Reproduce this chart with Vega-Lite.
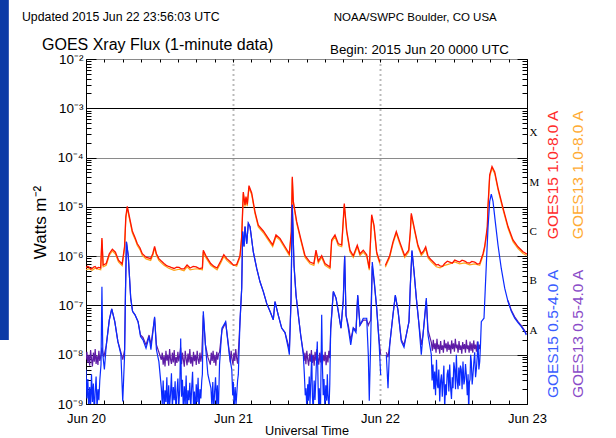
{
"$schema": "https://vega.github.io/schema/vega-lite/v6.json",
"width": 441, "height": 345,
"autosize": {"type": "none"},
"padding": {"left": 86, "top": 59, "right": 89, "bottom": 34},
"background": "white",
"config": {
 "view": {"stroke": "#000", "strokeWidth": 1},
 "font": "Liberation Sans",
 "axis": {"labelFont": "Liberation Sans", "titleFont": "Liberation Sans", "labelColor": "#000", "titleColor": "#000", "tickColor": "#000", "domain": false, "titleFontWeight": "normal", "labelOverlap": false, "labelFlush": false, "labelBound": false}
},
"datasets": {
 "r15": [{"t":0,"f":5.75e-7},{"t":0.25,"f":6.2e-7},{"t":0.5,"f":6.03e-7},{"t":0.75,"f":5.5e-7},{"t":1.0,"f":5.62e-7},{"t":1.25,"f":6.0e-7},{"t":1.5,"f":6.17e-7},{"t":1.75,"f":5.6e-7},{"t":2.0,"f":5.89e-7},{"t":2.4,"f":5.75e-7},{"t":2.6,"f":2.34e-6},{"t":2.8,"f":6.61e-7},{"t":3.3,"f":7.08e-7},{"t":3.8,"f":1.12e-6},{"t":4.3,"f":1.38e-6},{"t":4.8,"f":1.2e-6},{"t":5.3,"f":8.32e-7},{"t":5.9,"f":6.92e-7},{"t":6.3,"f":1.58e-6},{"t":6.5,"f":6.31e-6},{"t":6.74,"f":1.02e-5},{"t":7.0,"f":7.08e-6},{"t":7.56,"f":3.24e-6},{"t":8.0,"f":2.4e-6},{"t":8.38,"f":1.78e-6},{"t":8.8,"f":1.48e-6},{"t":9.19,"f":1.12e-6},{"t":9.8,"f":9.55e-7},{"t":10.56,"f":8.91e-7},{"t":10.9,"f":1.12e-6},{"t":11.2,"f":1.58e-6},{"t":11.5,"f":1.12e-6},{"t":11.9,"f":8.91e-7},{"t":12.3,"f":7.94e-7},{"t":12.73,"f":7.08e-7},{"t":13.1,"f":6.5e-7},{"t":13.5,"f":6.17e-7},{"t":13.9,"f":5.9e-7},{"t":14.37,"f":5.62e-7},{"t":14.8,"f":6.0e-7},{"t":15.2,"f":5.89e-7},{"t":15.6,"f":5.5e-7},{"t":16.0,"f":5.5e-7},{"t":16.5,"f":6.61e-7},{"t":17.0,"f":5.75e-7},{"t":17.5,"f":6.2e-7},{"t":18.0,"f":6.03e-7},{"t":18.5,"f":5.6e-7},{"t":19.0,"f":5.75e-7},{"t":19.15,"f":1.32e-6},{"t":19.6,"f":1.0e-6},{"t":20.36,"f":7.08e-7},{"t":20.9,"f":6.2e-7},{"t":21.4,"f":5.75e-7},{"t":22.0,"f":7.94e-7},{"t":22.5,"f":1.07e-6},{"t":23.0,"f":8.91e-7},{"t":23.6,"f":7.59e-7},{"t":24.1,"f":6.5e-7},{"t":24.6,"f":6.76e-7},{"t":25.14,"f":1.02e-6},{"t":25.42,"f":2.51e-6},{"t":25.68,"f":2.0e-5},{"t":25.96,"f":1.1e-5},{"t":26.12,"f":1.62e-5},{"t":26.33,"f":1.12e-5},{"t":26.61,"f":2.69e-5},{"t":27.05,"f":1.91e-5},{"t":27.59,"f":7.94e-6},{"t":28.13,"f":4.27e-6},{"t":28.95,"f":3.24e-6},{"t":29.76,"f":2.29e-6},{"t":30.48,"f":1.7e-6},{"t":31.02,"f":2.69e-6},{"t":31.67,"f":2.29e-6},{"t":32.49,"f":1.55e-6},{"t":33.19,"f":1.12e-6},{"t":33.52,"f":3.16e-6},{"t":33.68,"f":4.07e-5},{"t":33.85,"f":1.29e-5},{"t":34.4,"f":5.01e-6},{"t":35.05,"f":2.29e-6},{"t":35.76,"f":1.02e-6},{"t":36.57,"f":7.59e-7},{"t":37.2,"f":7.08e-7},{"t":37.55,"f":1.32e-6},{"t":37.93,"f":7.94e-7},{"t":38.48,"f":1.02e-6},{"t":39.02,"f":7.08e-7},{"t":39.84,"f":6.03e-7},{"t":40.11,"f":2.14e-6},{"t":40.65,"f":2.69e-6},{"t":41.19,"f":1.78e-6},{"t":41.75,"f":1.7e-6},{"t":42.17,"f":1.17e-5},{"t":42.56,"f":3.31e-6},{"t":43.1,"f":1.32e-6},{"t":43.64,"f":1.02e-6},{"t":44.29,"f":1.66e-6},{"t":44.73,"f":1.12e-6},{"t":45.27,"f":1.32e-6},{"t":45.83,"f":1.07e-6},{"t":46.25,"f":5.62e-7},{"t":46.64,"f":6.92e-6},{"t":47.02,"f":4.27e-6},{"t":47.46,"f":1.2e-6},{"t":48.0,"f":7.41e-7},{"t":48.3,"f":null},{"t":48.87,"f":6.46e-7},{"t":49.58,"f":1.02e-6},{"t":50.12,"f":1.95e-6},{"t":50.66,"f":3.16e-6},{"t":51.22,"f":1.95e-6},{"t":52.03,"f":1.02e-6},{"t":52.69,"f":1.32e-6},{"t":52.95,"f":3.16e-6},{"t":53.11,"f":7.41e-6},{"t":53.67,"f":3.39e-6},{"t":54.2,"f":1.66e-6},{"t":54.74,"f":1.12e-6},{"t":55.1,"f":1.26e-6},{"t":55.46,"f":1.55e-6},{"t":55.84,"f":1.0e-6},{"t":56.38,"f":8.32e-7},{"t":57.19,"f":6.61e-7},{"t":57.5,"f":6.8e-7},{"t":57.8,"f":6.31e-7},{"t":58.2,"f":6.2e-7},{"t":58.56,"f":7.08e-7},{"t":59.0,"f":7.9e-7},{"t":59.38,"f":7.59e-7},{"t":59.8,"f":7.2e-7},{"t":60.2,"f":8.32e-7},{"t":60.6,"f":7.9e-7},{"t":61.0,"f":7.59e-7},{"t":61.4,"f":8.3e-7},{"t":61.83,"f":7.94e-7},{"t":62.2,"f":7.4e-7},{"t":62.64,"f":7.24e-7},{"t":63.0,"f":7.8e-7},{"t":63.46,"f":7.59e-7},{"t":63.9,"f":6.9e-7},{"t":64.28,"f":7.08e-7},{"t":64.82,"f":1.12e-6},{"t":65.09,"f":1.58e-6},{"t":65.35,"f":2.69e-6},{"t":65.52,"f":3.98e-6},{"t":65.63,"f":1.02e-5},{"t":65.91,"f":4.47e-5},{"t":66.29,"f":6.61e-5},{"t":66.73,"f":5.13e-5},{"t":67.27,"f":2.4e-5},{"t":68.08,"f":9.55e-6},{"t":68.9,"f":3.98e-6},{"t":69.71,"f":2.14e-6},{"t":70.53,"f":1.55e-6},{"t":71.35,"f":1.23e-6},{"t":71.9,"f":1.12e-6},{"t":72,"f":1.1e-6}],
 "o13": [{"t":0,"f":5.29e-7},{"t":0.5,"f":5.55e-7},{"t":1.0,"f":5.17e-7},{"t":1.5,"f":5.68e-7},{"t":2.0,"f":5.42e-7},{"t":2.4,"f":5.29e-7},{"t":2.6,"f":2.15e-6},{"t":2.8,"f":6.08e-7},{"t":3.3,"f":6.51e-7},{"t":3.8,"f":1.03e-6},{"t":4.3,"f":1.27e-6},{"t":4.8,"f":1.1e-6},{"t":5.3,"f":7.65e-7},{"t":5.9,"f":6.37e-7},{"t":6.3,"f":1.45e-6},{"t":6.5,"f":5.81e-6},{"t":6.74,"f":9.4e-6},{"t":7.0,"f":6.51e-6},{"t":7.56,"f":2.98e-6},{"t":8.0,"f":2.21e-6},{"t":8.38,"f":1.64e-6},{"t":8.8,"f":1.36e-6},{"t":9.19,"f":1.03e-6},{"t":9.8,"f":8.79e-7},{"t":10.56,"f":8.2e-7},{"t":10.9,"f":1.03e-6},{"t":11.2,"f":1.45e-6},{"t":11.5,"f":1.03e-6},{"t":11.9,"f":8.2e-7},{"t":12.3,"f":7.3e-7},{"t":12.73,"f":6.51e-7},{"t":13.5,"f":5.68e-7},{"t":14.37,"f":5.17e-7},{"t":15.2,"f":5.42e-7},{"t":16.0,"f":5.06e-7},{"t":16.5,"f":6.08e-7},{"t":17.0,"f":5.29e-7},{"t":18.0,"f":5.55e-7},{"t":19.0,"f":5.29e-7},{"t":19.15,"f":1.21e-6},{"t":19.6,"f":9.2e-7},{"t":20.36,"f":6.51e-7},{"t":21.4,"f":5.29e-7},{"t":22.0,"f":7.3e-7},{"t":22.5,"f":9.84e-7},{"t":23.0,"f":8.2e-7},{"t":23.6,"f":6.98e-7},{"t":24.6,"f":6.22e-7},{"t":25.14,"f":9.4e-7},{"t":25.42,"f":2.31e-6},{"t":25.68,"f":1.84e-5},{"t":25.96,"f":1.01e-5},{"t":26.12,"f":1.49e-5},{"t":26.33,"f":1.03e-5},{"t":26.61,"f":2.47e-5},{"t":27.05,"f":1.76e-5},{"t":27.59,"f":7.3e-6},{"t":28.13,"f":3.93e-6},{"t":28.95,"f":2.98e-6},{"t":29.76,"f":2.11e-6},{"t":30.48,"f":1.56e-6},{"t":31.02,"f":2.47e-6},{"t":31.67,"f":2.11e-6},{"t":32.49,"f":1.43e-6},{"t":33.19,"f":1.03e-6},{"t":33.52,"f":2.91e-6},{"t":33.68,"f":3.74e-5},{"t":33.85,"f":1.19e-5},{"t":34.4,"f":4.61e-6},{"t":35.05,"f":2.11e-6},{"t":35.76,"f":9.4e-7},{"t":36.57,"f":6.98e-7},{"t":37.2,"f":6.51e-7},{"t":37.55,"f":1.21e-6},{"t":37.93,"f":7.3e-7},{"t":38.48,"f":9.4e-7},{"t":39.02,"f":6.51e-7},{"t":39.84,"f":5.55e-7},{"t":40.11,"f":1.97e-6},{"t":40.65,"f":2.47e-6},{"t":41.19,"f":1.64e-6},{"t":41.75,"f":1.56e-6},{"t":42.17,"f":1.08e-5},{"t":42.56,"f":3.05e-6},{"t":43.1,"f":1.21e-6},{"t":43.64,"f":9.4e-7},{"t":44.29,"f":1.53e-6},{"t":44.73,"f":1.03e-6},{"t":45.27,"f":1.21e-6},{"t":45.83,"f":9.84e-7},{"t":46.25,"f":5.17e-7},{"t":46.64,"f":6.37e-6},{"t":47.02,"f":3.93e-6},{"t":47.46,"f":1.1e-6},{"t":48.0,"f":6.82e-7},{"t":48.3,"f":null},{"t":48.87,"f":5.94e-7},{"t":49.58,"f":9.4e-7},{"t":50.12,"f":1.79e-6},{"t":50.66,"f":2.91e-6},{"t":51.22,"f":1.79e-6},{"t":52.03,"f":9.4e-7},{"t":52.69,"f":1.21e-6},{"t":52.95,"f":2.91e-6},{"t":53.11,"f":6.82e-6},{"t":53.67,"f":3.12e-6},{"t":54.2,"f":1.53e-6},{"t":54.74,"f":1.03e-6},{"t":55.1,"f":1.16e-6},{"t":55.46,"f":1.43e-6},{"t":55.84,"f":9.2e-7},{"t":56.38,"f":7.65e-7},{"t":57.19,"f":6.08e-7},{"t":57.8,"f":5.81e-7},{"t":58.56,"f":6.51e-7},{"t":59.38,"f":6.98e-7},{"t":60.2,"f":7.65e-7},{"t":61.0,"f":6.98e-7},{"t":61.83,"f":7.3e-7},{"t":62.64,"f":6.66e-7},{"t":63.46,"f":6.98e-7},{"t":64.28,"f":6.51e-7},{"t":64.82,"f":1.03e-6},{"t":65.09,"f":1.45e-6},{"t":65.35,"f":2.47e-6},{"t":65.52,"f":3.66e-6},{"t":65.63,"f":9.4e-6},{"t":65.91,"f":4.11e-5},{"t":66.29,"f":6.08e-5},{"t":66.73,"f":4.72e-5},{"t":67.27,"f":2.21e-5},{"t":68.08,"f":8.79e-6},{"t":68.9,"f":3.66e-6},{"t":69.71,"f":1.97e-6},{"t":70.53,"f":1.43e-6},{"t":71.35,"f":1.13e-6},{"t":71.9,"f":1.03e-6}],
 "b15": [{"t":0,"f":5.0e-9},{"t":0.15,"f":1.3e-9},{"t":0.3,"f":3.2e-9},{"t":0.45,"f":7e-10},{"t":0.6,"f":2.2e-9},{"t":0.75,"f":9e-10},{"t":0.9,"f":4.0e-9},{"t":1.05,"f":1.1e-9},{"t":1.2,"f":2.6e-9},{"t":1.35,"f":6e-10},{"t":1.5,"f":1.8e-9},{"t":1.65,"f":3.6e-9},{"t":1.8,"f":8e-10},{"t":1.95,"f":2.0e-9},{"t":2.1,"f":1.2e-9},{"t":2.25,"f":3.0e-9},{"t":2.45,"f":6.31e-9},{"t":2.6,"f":2.4e-7},{"t":2.75,"f":1.0e-8},{"t":3.0,"f":5.01e-9},{"t":3.3,"f":1.51e-8},{"t":3.8,"f":5.01e-8},{"t":4.2,"f":8.51e-8},{"t":4.7,"f":4.68e-8},{"t":5.2,"f":1.86e-8},{"t":5.7,"f":1.0e-8},{"t":6.0,"f":1.12e-9},{"t":6.3,"f":1.0e-8},{"t":6.45,"f":2.0e-7},{"t":6.6,"f":1.95e-6},{"t":6.9,"f":1.02e-6},{"t":7.3,"f":1.41e-7},{"t":7.6,"f":7.59e-8},{"t":8.0,"f":6.46e-8},{"t":8.5,"f":4.68e-8},{"t":8.9,"f":2.34e-8},{"t":9.3,"f":2.0e-8},{"t":9.8,"f":1.35e-8},{"t":10.3,"f":2.34e-8},{"t":10.6,"f":1.26e-8},{"t":11.2,"f":5.89e-8},{"t":11.5,"f":1.26e-8},{"t":11.9,"f":7.24e-9},{"t":12.3,"f":2.1e-9},{"t":12.45,"f":1.0e-9},{"t":12.6,"f":3.0e-9},{"t":12.75,"f":7e-10},{"t":12.9,"f":1.9e-9},{"t":13.05,"f":1.1e-9},{"t":13.2,"f":3.5e-9},{"t":13.35,"f":6e-10},{"t":13.5,"f":2.4e-9},{"t":13.65,"f":9e-10},{"t":13.8,"f":1.6e-9},{"t":13.95,"f":4.2e-9},{"t":14.1,"f":8e-10},{"t":14.25,"f":2.2e-9},{"t":14.4,"f":1.2e-9},{"t":14.55,"f":2.9e-9},{"t":14.7,"f":6e-10},{"t":14.85,"f":1.7e-9},{"t":15.0,"f":3.3e-9},{"t":15.15,"f":9e-10},{"t":15.3,"f":2.0e-9},{"t":15.46,"f":2.14e-8},{"t":15.6,"f":1.4e-9},{"t":15.75,"f":3.1e-9},{"t":15.9,"f":7e-10},{"t":16.05,"f":2.3e-9},{"t":16.2,"f":1.0e-9},{"t":16.35,"f":3.8e-9},{"t":16.5,"f":6e-10},{"t":16.65,"f":1.9e-9},{"t":16.8,"f":1.2e-9},{"t":16.95,"f":2.7e-9},{"t":17.1,"f":8e-10},{"t":17.25,"f":2.1e-9},{"t":17.4,"f":4.5e-9},{"t":17.55,"f":9e-10},{"t":17.7,"f":1.8e-9},{"t":17.85,"f":6e-10},{"t":18.0,"f":2.5e-9},{"t":18.15,"f":1.1e-9},{"t":18.3,"f":3.4e-9},{"t":18.45,"f":7e-10},{"t":18.6,"f":2.0e-9},{"t":18.75,"f":1.3e-9},{"t":18.9,"f":3.0e-9},{"t":19.0,"f":4.0e-9},{"t":19.15,"f":7.59e-8},{"t":19.5,"f":1.58e-8},{"t":19.9,"f":3.98e-9},{"t":20.4,"f":2.1e-9},{"t":20.55,"f":9e-10},{"t":20.7,"f":2.8e-9},{"t":20.85,"f":7e-10},{"t":21.0,"f":1.8e-9},{"t":21.15,"f":3.5e-9},{"t":21.3,"f":1.0e-9},{"t":21.45,"f":2.4e-9},{"t":21.6,"f":6e-10},{"t":21.8,"f":6.31e-9},{"t":22.2,"f":3.47e-8},{"t":22.8,"f":4.68e-8},{"t":23.4,"f":1.0e-8},{"t":23.8,"f":5.0e-9},{"t":23.95,"f":1.5e-9},{"t":24.05,"f":2.82e-9},{"t":24.2,"f":8e-10},{"t":24.35,"f":2.2e-9},{"t":24.5,"f":1.0e-9},{"t":24.6,"f":1.51e-9},{"t":24.75,"f":3.0e-9},{"t":24.87,"f":3.98e-9},{"t":25.14,"f":4.68e-8},{"t":25.42,"f":2.24e-7},{"t":25.58,"f":3.16e-6},{"t":25.8,"f":1.58e-6},{"t":25.96,"f":3.98e-6},{"t":26.24,"f":1.78e-6},{"t":26.5,"f":4.68e-6},{"t":26.78,"f":3.98e-6},{"t":27.31,"f":1.23e-6},{"t":27.87,"f":5.62e-7},{"t":28.41,"f":3.02e-7},{"t":28.95,"f":1.91e-7},{"t":29.5,"f":1.1e-7},{"t":30.04,"f":7.59e-8},{"t":30.58,"f":5.13e-8},{"t":30.86,"f":1.2e-7},{"t":31.4,"f":6.31e-8},{"t":31.95,"f":3.47e-8},{"t":32.49,"f":2.82e-8},{"t":33.03,"f":1.35e-8},{"t":33.2,"f":1.0e-8},{"t":33.47,"f":1.26e-7},{"t":33.68,"f":1.1e-5},{"t":33.96,"f":6.61e-7},{"t":34.29,"f":1.62e-7},{"t":34.66,"f":6.46e-8},{"t":35.05,"f":2.51e-8},{"t":35.48,"f":1.0e-8},{"t":35.65,"f":4.0e-9},{"t":35.8,"f":1.5e-9},{"t":35.92,"f":2.09e-9},{"t":36.05,"f":8e-10},{"t":36.2,"f":2.5e-9},{"t":36.3,"f":1.17e-9},{"t":36.45,"f":3.6e-9},{"t":36.57,"f":1.0e-9},{"t":36.7,"f":2.8e-9},{"t":36.85,"f":1.0e-8},{"t":36.97,"f":1.4e-9},{"t":37.1,"f":7e-10},{"t":37.25,"f":3.0e-9},{"t":37.39,"f":1.2e-9},{"t":37.55,"f":4.0e-9},{"t":37.76,"f":1.86e-8},{"t":37.9,"f":2.2e-9},{"t":38.0,"f":8e-10},{"t":38.09,"f":2.09e-9},{"t":38.18,"f":9e-10},{"t":38.28,"f":6.31e-10},{"t":38.48,"f":6.46e-8},{"t":38.6,"f":6.0e-9},{"t":38.73,"f":1.5e-9},{"t":38.86,"f":3.2e-9},{"t":39.0,"f":8e-10},{"t":39.15,"f":2.4e-9},{"t":39.3,"f":1.17e-9},{"t":39.4,"f":4.0e-9},{"t":39.5,"f":1.6e-9},{"t":39.67,"f":7.94e-10},{"t":39.8,"f":2.5e-9},{"t":39.95,"f":3.47e-8},{"t":40.38,"f":1.91e-7},{"t":40.82,"f":1.41e-7},{"t":41.19,"f":7.59e-8},{"t":41.63,"f":3.47e-8},{"t":42.0,"f":1.26e-7},{"t":42.23,"f":1.02e-6},{"t":42.45,"f":6.31e-8},{"t":42.82,"f":3.47e-8},{"t":43.22,"f":1.58e-8},{"t":43.64,"f":3.47e-8},{"t":44.08,"f":2.82e-8},{"t":44.36,"f":1.62e-7},{"t":44.73,"f":3.98e-8},{"t":45.27,"f":5.5e-8},{"t":45.83,"f":5.5e-8},{"t":46.09,"f":1.0e-8},{"t":46.25,"f":1.17e-9},{"t":46.48,"f":1.86e-8},{"t":46.74,"f":7.59e-7},{"t":47.07,"f":3.02e-7},{"t":47.46,"f":8.71e-8},{"t":47.84,"f":1.86e-8},{"t":48.11,"f":3.89e-9},{"t":48.3,"f":null},{"t":49.03,"f":1.0e-8},{"t":49.31,"f":2.09e-9},{"t":49.58,"f":1.58e-8},{"t":50.12,"f":6.46e-8},{"t":50.5,"f":1.62e-7},{"t":50.94,"f":7.94e-8},{"t":51.48,"f":1.86e-8},{"t":51.92,"f":1.41e-8},{"t":52.29,"f":2.51e-8},{"t":52.73,"f":4.68e-8},{"t":52.95,"f":2.51e-7},{"t":53.22,"f":1.32e-6},{"t":53.55,"f":4.9e-7},{"t":53.93,"f":1.41e-7},{"t":54.32,"f":4.68e-8},{"t":54.74,"f":1.0e-8},{"t":55.02,"f":2.51e-8},{"t":55.56,"f":1.41e-7},{"t":55.84,"f":2.51e-8},{"t":56.38,"f":1.0e-8},{"t":56.5,"f":3.0e-9},{"t":56.65,"f":6.3e-9},{"t":56.8,"f":2.0e-9},{"t":56.93,"f":4.57e-9},{"t":57.07,"f":1.5e-9},{"t":57.22,"f":7.94e-9},{"t":57.35,"f":2.5e-9},{"t":57.47,"f":2.09e-9},{"t":57.6,"f":5.0e-9},{"t":57.75,"f":1.12e-9},{"t":57.9,"f":3.0e-9},{"t":58.04,"f":3.98e-9},{"t":58.17,"f":1.4e-9},{"t":58.29,"f":2.82e-9},{"t":58.43,"f":6.0e-9},{"t":58.56,"f":7.94e-10},{"t":58.7,"f":2.5e-9},{"t":58.82,"f":1.51e-9},{"t":58.96,"f":4.0e-9},{"t":59.1,"f":5.01e-9},{"t":59.24,"f":1.8e-9},{"t":59.38,"f":6.31e-9},{"t":59.52,"f":2.2e-9},{"t":59.67,"f":1.26e-9},{"t":59.8,"f":3.5e-9},{"t":59.92,"f":2.09e-9},{"t":60.06,"f":7.0e-9},{"t":60.2,"f":5.01e-9},{"t":60.33,"f":2.0e-9},{"t":60.47,"f":1.0e-8},{"t":60.6,"f":3.0e-9},{"t":60.74,"f":2.0e-9},{"t":60.87,"f":5.5e-9},{"t":61.0,"f":2.34e-9},{"t":61.13,"f":6.0e-9},{"t":61.27,"f":5.01e-9},{"t":61.4,"f":2.0e-9},{"t":61.55,"f":7.24e-9},{"t":61.7,"f":2.5e-9},{"t":61.83,"f":3.16e-9},{"t":61.96,"f":6.5e-9},{"t":62.09,"f":3.98e-9},{"t":62.25,"f":1.5e-9},{"t":62.38,"f":4.0e-9},{"t":62.48,"f":6.31e-10},{"t":62.6,"f":2.8e-9},{"t":62.7,"f":3.16e-9},{"t":62.8,"f":1.0e-8},{"t":62.91,"f":7.24e-9},{"t":63.05,"f":2.5e-9},{"t":63.18,"f":3.98e-9},{"t":63.32,"f":7.0e-9},{"t":63.46,"f":1.12e-8},{"t":63.6,"f":3.5e-9},{"t":63.73,"f":5.01e-9},{"t":63.87,"f":9.0e-9},{"t":64.0,"f":1.86e-8},{"t":64.14,"f":5.0e-9},{"t":64.28,"f":7.24e-9},{"t":64.4,"f":1.5e-8},{"t":64.54,"f":4.68e-8},{"t":64.98,"f":5.5e-8},{"t":65.19,"f":2.24e-7},{"t":65.42,"f":1.0e-6},{"t":65.63,"f":3.72e-6},{"t":65.91,"f":1.29e-5},{"t":66.17,"f":1.82e-5},{"t":66.45,"f":1.29e-5},{"t":66.82,"f":5.01e-6},{"t":67.27,"f":1.66e-6},{"t":67.8,"f":5.62e-7},{"t":68.36,"f":2.24e-7},{"t":68.9,"f":1.2e-7},{"t":69.44,"f":7.59e-8},{"t":69.99,"f":5.5e-8},{"t":70.53,"f":4.47e-8},{"t":71.07,"f":3.72e-8},{"t":71.62,"f":2.95e-8},{"t":71.88,"f":2.51e-8}],
 "p13": [{"t":0,"f":7.9e-9},{"t":0.15,"f":1.15e-8},{"t":0.3,"f":6.8e-9},{"t":0.45,"f":1.0e-8},{"t":0.6,"f":6.0e-9},{"t":0.75,"f":1.25e-8},{"t":0.9,"f":8.2e-9},{"t":1.05,"f":5.8e-9},{"t":1.2,"f":1.1e-8},{"t":1.35,"f":7.2e-9},{"t":1.5,"f":1.3e-8},{"t":1.65,"f":6.5e-9},{"t":1.8,"f":9.5e-9},{"t":1.95,"f":6.2e-9},{"t":2.1,"f":1.2e-8},{"t":2.25,"f":7.5e-9},{"t":2.4,"f":9.0e-9},{"t":2.6,"f":1.4e-8},{"t":2.9,"f":8.91e-9},{"t":3.3,"f":1.51e-8},{"t":3.8,"f":5.01e-8},{"t":4.2,"f":8.51e-8},{"t":4.7,"f":4.68e-8},{"t":5.2,"f":1.86e-8},{"t":5.7,"f":1.12e-8},{"t":6.0,"f":7.94e-9},{"t":6.3,"f":1.26e-8},{"t":6.45,"f":2.0e-7},{"t":6.6,"f":1.95e-6},{"t":6.9,"f":1.02e-6},{"t":7.3,"f":1.41e-7},{"t":7.6,"f":7.59e-8},{"t":8.0,"f":6.46e-8},{"t":8.5,"f":4.68e-8},{"t":8.9,"f":2.51e-8},{"t":9.3,"f":2.24e-8},{"t":9.8,"f":1.58e-8},{"t":10.3,"f":2.51e-8},{"t":10.6,"f":1.58e-8},{"t":11.2,"f":5.62e-8},{"t":11.5,"f":1.58e-8},{"t":11.9,"f":1.12e-8},{"t":12.3,"f":7.9e-9},{"t":12.45,"f":1.1e-8},{"t":12.6,"f":6.3e-9},{"t":12.75,"f":9.5e-9},{"t":12.9,"f":5.8e-9},{"t":13.05,"f":1.2e-8},{"t":13.2,"f":7.6e-9},{"t":13.35,"f":1.0e-8},{"t":13.5,"f":6.0e-9},{"t":13.65,"f":1.3e-8},{"t":13.8,"f":8.0e-9},{"t":13.95,"f":6.5e-9},{"t":14.1,"f":1.1e-8},{"t":14.25,"f":7.0e-9},{"t":14.4,"f":1.25e-8},{"t":14.55,"f":5.9e-9},{"t":14.7,"f":9.0e-9},{"t":14.85,"f":6.8e-9},{"t":15.0,"f":1.15e-8},{"t":15.15,"f":7.3e-9},{"t":15.3,"f":1.0e-8},{"t":15.45,"f":1.4e-8},{"t":15.6,"f":6.4e-9},{"t":15.75,"f":1.1e-8},{"t":15.9,"f":7.8e-9},{"t":16.05,"f":5.7e-9},{"t":16.2,"f":1.2e-8},{"t":16.35,"f":8.2e-9},{"t":16.5,"f":6.1e-9},{"t":16.65,"f":1.05e-8},{"t":16.8,"f":7.0e-9},{"t":16.95,"f":1.3e-8},{"t":17.1,"f":6.6e-9},{"t":17.25,"f":9.2e-9},{"t":17.4,"f":5.8e-9},{"t":17.55,"f":1.15e-8},{"t":17.7,"f":7.4e-9},{"t":17.85,"f":1.0e-8},{"t":18.0,"f":6.2e-9},{"t":18.15,"f":1.2e-8},{"t":18.3,"f":8.0e-9},{"t":18.45,"f":6.5e-9},{"t":18.6,"f":1.1e-8},{"t":18.75,"f":7.2e-9},{"t":18.9,"f":1.0e-8},{"t":19.15,"f":6.31e-8},{"t":19.5,"f":1.58e-8},{"t":19.9,"f":8.91e-9},{"t":20.3,"f":6.3e-9},{"t":20.45,"f":1.1e-8},{"t":20.6,"f":7.5e-9},{"t":20.75,"f":1.2e-8},{"t":20.9,"f":6.8e-9},{"t":21.05,"f":1.0e-8},{"t":21.2,"f":6.0e-9},{"t":21.35,"f":1.15e-8},{"t":21.5,"f":7.9e-9},{"t":21.65,"f":1.05e-8},{"t":21.8,"f":1.12e-8},{"t":22.2,"f":3.16e-8},{"t":22.8,"f":4.47e-8},{"t":23.4,"f":1.12e-8},{"t":23.55,"f":7.0e-9},{"t":23.7,"f":1.2e-8},{"t":23.85,"f":7.94e-9},{"t":24.0,"f":6.3e-9},{"t":24.15,"f":1.1e-8},{"t":24.3,"f":7.5e-9},{"t":24.45,"f":1.3e-8},{"t":24.6,"f":8.5e-9},{"t":24.75,"f":6.6e-9},{"t":24.87,"f":1.12e-8},{"t":25.14,"f":4.68e-8},{"t":25.42,"f":2.24e-7},{"t":25.58,"f":3.16e-6},{"t":25.8,"f":1.58e-6},{"t":25.96,"f":3.98e-6},{"t":26.24,"f":1.78e-6},{"t":26.5,"f":4.68e-6},{"t":26.78,"f":3.98e-6},{"t":27.31,"f":1.23e-6},{"t":27.87,"f":5.62e-7},{"t":28.41,"f":3.02e-7},{"t":28.95,"f":1.91e-7},{"t":29.5,"f":1.1e-7},{"t":30.04,"f":7.59e-8},{"t":30.58,"f":5.13e-8},{"t":30.86,"f":1.2e-7},{"t":31.4,"f":6.31e-8},{"t":31.95,"f":3.47e-8},{"t":32.49,"f":2.82e-8},{"t":33.03,"f":1.58e-8},{"t":33.2,"f":1.26e-8},{"t":33.47,"f":1.26e-7},{"t":33.68,"f":1.1e-5},{"t":33.96,"f":6.61e-7},{"t":34.29,"f":1.62e-7},{"t":34.66,"f":6.46e-8},{"t":35.05,"f":2.51e-8},{"t":35.48,"f":1.12e-8},{"t":35.6,"f":7.5e-9},{"t":35.75,"f":1.1e-8},{"t":35.9,"f":6.4e-9},{"t":36.05,"f":1.2e-8},{"t":36.2,"f":8.0e-9},{"t":36.35,"f":6.0e-9},{"t":36.5,"f":1.05e-8},{"t":36.65,"f":7.2e-9},{"t":36.8,"f":1.25e-8},{"t":36.95,"f":6.8e-9},{"t":37.1,"f":1.0e-8},{"t":37.25,"f":6.0e-9},{"t":37.4,"f":1.15e-8},{"t":37.55,"f":7.6e-9},{"t":37.7,"f":1.3e-8},{"t":37.85,"f":8.2e-9},{"t":38.0,"f":6.3e-9},{"t":38.15,"f":1.1e-8},{"t":38.3,"f":7.0e-9},{"t":38.45,"f":1.2e-8},{"t":38.6,"f":6.5e-9},{"t":38.75,"f":1.0e-8},{"t":38.9,"f":7.4e-9},{"t":39.05,"f":1.15e-8},{"t":39.2,"f":6.1e-9},{"t":39.35,"f":9.8e-9},{"t":39.5,"f":7.0e-9},{"t":39.65,"f":1.2e-8},{"t":39.8,"f":8.5e-9},{"t":39.95,"f":3.16e-8},{"t":40.38,"f":1.91e-7},{"t":40.82,"f":1.41e-7},{"t":41.19,"f":7.59e-8},{"t":41.63,"f":3.47e-8},{"t":42.0,"f":1.26e-7},{"t":42.23,"f":1.0e-6},{"t":42.45,"f":6.31e-8},{"t":42.82,"f":3.98e-8},{"t":43.22,"f":2.0e-8},{"t":43.64,"f":3.47e-8},{"t":44.08,"f":3.16e-8},{"t":44.36,"f":1.58e-7},{"t":44.73,"f":3.98e-8},{"t":45.27,"f":5.01e-8},{"t":45.83,"f":5.01e-8},{"t":46.09,"f":3.98e-8},{"t":46.25,"f":4.47e-8},{"t":46.48,"f":5.01e-8},{"t":46.74,"f":6.31e-7},{"t":47.07,"f":2.82e-7},{"t":47.46,"f":8.71e-8},{"t":47.84,"f":2.0e-8},{"t":48.11,"f":1.0e-8},{"t":48.3,"f":null},{"t":49.03,"f":1.12e-8},{"t":49.31,"f":8.91e-9},{"t":49.58,"f":1.58e-8},{"t":50.12,"f":6.46e-8},{"t":50.5,"f":1.58e-7},{"t":50.94,"f":7.94e-8},{"t":51.48,"f":2.0e-8},{"t":51.92,"f":1.58e-8},{"t":52.29,"f":2.51e-8},{"t":52.73,"f":4.68e-8},{"t":52.95,"f":2.51e-7},{"t":53.22,"f":1.26e-6},{"t":53.55,"f":5.01e-7},{"t":53.93,"f":1.41e-7},{"t":54.32,"f":4.68e-8},{"t":54.74,"f":1.58e-8},{"t":55.02,"f":2.51e-8},{"t":55.56,"f":1.26e-7},{"t":55.84,"f":3.16e-8},{"t":56.38,"f":1.78e-8},{"t":56.55,"f":1.2e-8},{"t":56.7,"f":2.0e-8},{"t":56.85,"f":1.3e-8},{"t":57.0,"f":1.7e-8},{"t":57.15,"f":1.1e-8},{"t":57.3,"f":2.1e-8},{"t":57.45,"f":1.3e-8},{"t":57.6,"f":1.6e-8},{"t":57.75,"f":1.05e-8},{"t":57.9,"f":1.9e-8},{"t":58.05,"f":1.25e-8},{"t":58.2,"f":1.55e-8},{"t":58.35,"f":1.1e-8},{"t":58.5,"f":2.0e-8},{"t":58.65,"f":1.35e-8},{"t":58.8,"f":1.7e-8},{"t":58.95,"f":1.15e-8},{"t":59.1,"f":1.85e-8},{"t":59.25,"f":1.25e-8},{"t":59.4,"f":1.6e-8},{"t":59.55,"f":1.05e-8},{"t":59.7,"f":1.95e-8},{"t":59.85,"f":1.3e-8},{"t":60.0,"f":1.7e-8},{"t":60.15,"f":1.15e-8},{"t":60.3,"f":2.1e-8},{"t":60.45,"f":1.35e-8},{"t":60.6,"f":1.6e-8},{"t":60.75,"f":1.1e-8},{"t":60.9,"f":1.9e-8},{"t":61.05,"f":1.25e-8},{"t":61.2,"f":1.55e-8},{"t":61.35,"f":1.05e-8},{"t":61.5,"f":1.8e-8},{"t":61.65,"f":1.3e-8},{"t":61.8,"f":1.65e-8},{"t":61.95,"f":1.1e-8},{"t":62.1,"f":2.0e-8},{"t":62.25,"f":1.3e-8},{"t":62.4,"f":1.55e-8},{"t":62.55,"f":1.1e-8},{"t":62.7,"f":1.85e-8},{"t":62.85,"f":1.2e-8},{"t":63.0,"f":1.7e-8},{"t":63.15,"f":1.1e-8},{"t":63.3,"f":1.95e-8},{"t":63.45,"f":1.3e-8},{"t":63.6,"f":1.6e-8},{"t":63.75,"f":1.15e-8},{"t":63.9,"f":1.85e-8},{"t":64.05,"f":1.25e-8},{"t":64.2,"f":1.6e-8},{"t":64.3,"f":1.3e-8},{"t":64.4,"f":null},{"t":68.9,"f":1.26e-7},{"t":69.44,"f":7.94e-8},{"t":69.99,"f":5.89e-8},{"t":70.53,"f":4.68e-8},{"t":71.07,"f":3.89e-8},{"t":71.62,"f":3.09e-8},{"t":71.88,"f":2.63e-8}]
},
"resolve": {"axis": {"x": "independent", "y": "independent"}},
"layer": [
 {"data": {"values": [{}]},
  "mark": {"type": "rect", "color": "#0b3aa6", "clip": false},
  "encoding": {
   "x": {"datum": -14.2, "type": "quantitative", "scale": {"domain": [0, 72], "nice": false, "zero": false}, "axis": null},
   "x2": {"datum": -12.6},
   "y": {"datum": 0.2, "type": "quantitative", "scale": {"type": "log", "domain": [1e-9, 1e-2], "nice": false}, "axis": null},
   "y2": {"datum": 2.0e-8}
  }},
 {"data": {"name": "o13"},
  "mark": {"type": "line", "color": "#ffa51a", "strokeWidth": 1.2, "clip": true},
  "encoding": {
   "x": {"field": "t", "type": "quantitative", "axis": {"orient": "bottom", "values": [0,3,6,9,12,15,18,21,24,27,30,33,36,39,42,45,48,51,54,57,60,63,66,69,72],
     "labelExpr": "datum.value == 0 ? 'Jun 20' : datum.value == 24 ? 'Jun 21' : datum.value == 48 ? 'Jun 22' : datum.value == 72 ? 'Jun 23' : ''",
     "tickSize": -4, "labelPadding": 12, "labelFontSize": 13, "title": "Universal Time", "titleFontSize": 12.7, "titlePadding": -0.5,
     "grid": true, "gridColor": "#777", "gridDash": [1, 4], "gridWidth": 2,
     "gridOpacity": {"condition": {"test": "datum.value == 24 || datum.value == 48", "value": 1}, "value": 0}}},
   "y": {"field": "f", "type": "quantitative", "axis": {"orient": "left",
     "values": [1e-9,2e-9,3e-9,4e-9,5e-9,6e-9,7e-9,8e-9,9e-9,1e-8,2e-8,3e-8,4e-8,5e-8,6e-8,7e-8,8e-8,9e-8,1e-7,2e-7,3e-7,4e-7,5e-7,6e-7,7e-7,8e-7,9e-7,1e-6,2e-6,3e-6,4e-6,5e-6,6e-6,7e-6,8e-6,9e-6,1e-5,2e-5,3e-5,4e-5,5e-5,6e-5,7e-5,8e-5,9e-5,1e-4,2e-4,3e-4,4e-4,5e-4,6e-4,7e-4,8e-4,9e-4,1e-3,2e-3,3e-3,4e-3,5e-3,6e-3,7e-3,8e-3,9e-3,1e-2],
     "labelExpr": "abs(log(datum.value)/LN10 - round(log(datum.value)/LN10)) < 0.01 ? '10⁻' + ['⁰','¹','²','³','⁴','⁵','⁶','⁷','⁸','⁹'][-round(log(datum.value)/LN10)] : ''",
     "labelFontSize": 13.5, "labelPadding": 13,
     "tickSize": {"condition": {"test": "abs(log(datum.value)/LN10 - round(log(datum.value)/LN10)) < 0.01", "value": -10}, "value": -5},
     "grid": true,
     "gridOpacity": {"condition": {"test": "abs(log(datum.value)/LN10 - round(log(datum.value)/LN10)) < 0.01", "value": 1}, "value": 0},
     "gridColor": {"condition": {"test": "round(log(datum.value)/LN10) % 2 == 0", "value": "#8a8a8a"}, "value": "#000"},
     "title": "Watts m⁻²", "titleFontSize": 17, "titleAngle": 270, "titleX": -46, "titleY": 163, "titleAlign": "center", "titleBaseline": "middle"}}
  }},
 {"data": {"name": "r15"},
  "mark": {"type": "line", "color": "#ff1400", "strokeWidth": 1.3, "clip": true},
  "encoding": {
   "x": {"field": "t", "type": "quantitative", "axis": {"orient": "top", "values": [0,3,6,9,12,15,18,21,24,27,30,33,36,39,42,45,48,51,54,57,60,63,66,69,72], "labels": false, "tickSize": -3, "title": null, "grid": false}},
   "y": {"field": "f", "type": "quantitative", "axis": {"orient": "right",
     "values": [1e-9,2e-9,3e-9,4e-9,5e-9,6e-9,7e-9,8e-9,9e-9,1e-8,2e-8,3e-8,4e-8,5e-8,6e-8,7e-8,8e-8,9e-8,1e-7,2e-7,3e-7,4e-7,5e-7,6e-7,7e-7,8e-7,9e-7,1e-6,2e-6,3e-6,4e-6,5e-6,6e-6,7e-6,8e-6,9e-6,1e-5,2e-5,3e-5,4e-5,5e-5,6e-5,7e-5,8e-5,9e-5,1e-4,2e-4,3e-4,4e-4,5e-4,6e-4,7e-4,8e-4,9e-4,1e-3,2e-3,3e-3,4e-3,5e-3,6e-3,7e-3,8e-3,9e-3,1e-2],
     "labels": false, "title": null, "grid": false,
     "tickSize": {"condition": {"test": "abs(log(datum.value)/LN10 - round(log(datum.value)/LN10)) < 0.01", "value": -10}, "value": -5}}}
  }},
 {"data": {"name": "p13"},
  "mark": {"type": "line", "color": "#5e1ca6", "strokeWidth": 1.2, "clip": true},
  "encoding": {
   "x": {"field": "t", "type": "quantitative", "axis": null},
   "y": {"field": "f", "type": "quantitative", "axis": {"orient": "right", "values": [3.1623e-8, 3.1623e-7, 3.1623e-6, 3.1623e-5, 3.1623e-4],
     "labelExpr": "datum.value < 1e-7 ? 'A' : datum.value < 1e-6 ? 'B' : datum.value < 1e-5 ? 'C' : datum.value < 1e-4 ? 'M' : 'X'",
     "ticks": false, "labelPadding": 2, "labelFont": "Liberation Serif", "labelFontSize": 11, "title": null, "grid": false}}
  }},
 {"data": {"name": "b15"},
  "mark": {"type": "line", "color": "#0a2aff", "strokeWidth": 1.2, "clip": true},
  "encoding": {
   "x": {"field": "t", "type": "quantitative", "axis": null},
   "y": {"field": "f", "type": "quantitative", "axis": null}
  }},
 {"data": {"values": [{}]},
  "mark": {"type": "text", "text": "Updated 2015 Jun 22 23:56:03 UTC", "align": "left", "baseline": "alphabetic", "fontSize": 12.3, "font": "Liberation Sans", "color": "#000"},
  "encoding": {"x": {"datum": -10.45, "type": "quantitative", "axis": null}, "y": {"datum": 0.059, "type": "quantitative", "axis": null}}},
 {"data": {"values": [{}]},
  "mark": {"type": "text", "text": "NOAA/SWPC Boulder, CO USA", "align": "left", "baseline": "alphabetic", "fontSize": 11.5, "font": "Liberation Sans", "color": "#000"},
  "encoding": {"x": {"datum": 40.45, "type": "quantitative", "axis": null}, "y": {"datum": 0.059, "type": "quantitative", "axis": null}}},
 {"data": {"values": [{}]},
  "mark": {"type": "text", "text": "GOES Xray Flux (1-minute data)", "align": "left", "baseline": "alphabetic", "fontSize": 16, "font": "Liberation Sans", "color": "#000"},
  "encoding": {"x": {"datum": -7.18, "type": "quantitative", "axis": null}, "y": {"datum": 0.01524, "type": "quantitative", "axis": null}}},
 {"data": {"values": [{}]},
  "mark": {"type": "text", "text": "Begin:  2015 Jun 20 0000 UTC", "align": "left", "baseline": "alphabetic", "fontSize": 13.3, "font": "Liberation Sans", "color": "#000"},
  "encoding": {"x": {"datum": 39.84, "type": "quantitative", "axis": null}, "y": {"datum": 0.01263, "type": "quantitative", "axis": null}}},
 {"data": {"values": [{}]},
  "mark": {"type": "text", "text": "GOES15 1.0-8.0 A", "angle": 270, "align": "center", "baseline": "middle", "fontSize": 15.5, "font": "Liberation Sans", "color": "#ff2a2a"},
  "encoding": {"x": {"datum": 76.3, "type": "quantitative", "axis": null}, "y": {"datum": 4.44e-5, "type": "quantitative", "axis": null}}},
 {"data": {"values": [{}]},
  "mark": {"type": "text", "text": "GOES13 1.0-8.0 A", "angle": 270, "align": "center", "baseline": "middle", "fontSize": 15.5, "font": "Liberation Sans", "color": "#ffab33"},
  "encoding": {"x": {"datum": 80.25, "type": "quantitative", "axis": null}, "y": {"datum": 4.44e-5, "type": "quantitative", "axis": null}}},
 {"data": {"values": [{}]},
  "mark": {"type": "text", "text": "GOES15 0.5-4.0 A", "angle": 270, "align": "center", "baseline": "middle", "fontSize": 15.5, "font": "Liberation Sans", "color": "#3a5cff"},
  "encoding": {"x": {"datum": 76.3, "type": "quantitative", "axis": null}, "y": {"datum": 2.64e-8, "type": "quantitative", "axis": null}}},
 {"data": {"values": [{}]},
  "mark": {"type": "text", "text": "GOES13 0.5-4.0 A", "angle": 270, "align": "center", "baseline": "middle", "fontSize": 15.5, "font": "Liberation Sans", "color": "#8a4cc8"},
  "encoding": {"x": {"datum": 80.25, "type": "quantitative", "axis": null}, "y": {"datum": 2.64e-8, "type": "quantitative", "axis": null}}}
]
}
